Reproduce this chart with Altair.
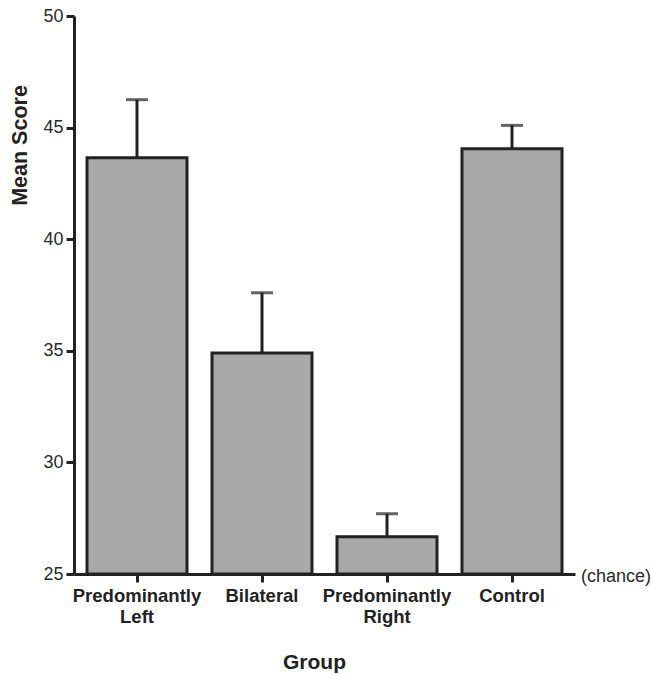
import altair as alt
import pandas as pd

groups = ["Predominantly Left", "Bilateral", "Predominantly Right", "Control"]
means = [43.65, 34.9, 26.67, 44.05]
upper = [46.25, 37.6, 27.7, 45.1]

df = pd.DataFrame({"group": groups, "mean": means, "upper": upper})

FONT = "Liberation Sans"
DARK = "#222222"

x = alt.X(
    "group:N",
    sort=groups,
    scale=alt.Scale(paddingInner=0.2, paddingOuter=0.104),
    axis=alt.Axis(
        title="Group",
        labelExpr="split(datum.label, ' ')",
        labelAngle=0,
        labelFont=FONT,
        labelFontSize=18.5,
        labelFontWeight="bold",
        labelColor=DARK,
        labelLineHeight=21,
        labelPadding=4,
        tickSize=8,
        tickWidth=3,
        tickColor=DARK,
        domainColor=DARK,
        domainWidth=3,
        titleFont=FONT,
        titleFontSize=21,
        titleFontWeight="bold",
        titleColor=DARK,
        titleX=240,
        titleY=94,
        titleBaseline="alphabetic",
        titleAlign="center",
    ),
)

y_scale = alt.Scale(domain=[25, 50], nice=False, zero=False)
y_axis = alt.Axis(
    title="Mean Score",
    values=[25, 30, 35, 40, 45, 50],
    grid=False,
    labelFont=FONT,
    labelFontSize=18,
    labelColor="#2a2a2a",
    labelPadding=3,
    tickSize=8,
    tickWidth=3,
    tickColor=DARK,
    domainColor=DARK,
    domainWidth=3,
    titleFont=FONT,
    titleFontSize=21.5,
    titleFontWeight="bold",
    titleColor=DARK,
    titleAngle=270,
    titleX=-54,
    titleY=129,
    titleAlign="center",
    titleBaseline="middle",
)

base = alt.Chart(df)

bars = base.mark_bar(fill="#a9a9a9", stroke=DARK, strokeWidth=3).encode(
    x=x,
    y=alt.Y("mean:Q", scale=y_scale, axis=y_axis),
    y2=alt.Y2(datum=25),
)

err = base.mark_rule(color=DARK, strokeWidth=3).encode(
    x=alt.X("group:N", sort=groups),
    y=alt.Y("mean:Q"),
    y2="upper:Q",
)

caps = base.mark_tick(color=DARK, thickness=3, size=22, orient="horizontal").encode(
    x=alt.X("group:N", sort=groups),
    y=alt.Y("upper:Q"),
)

chance = alt.Chart(pd.DataFrame({"t": ["(chance)"]})).mark_text(
    align="left", baseline="middle", font=FONT, fontSize=18, color="#2a2a2a"
).encode(
    x=alt.value(507),
    y=alt.value(561),
    text="t:N",
)

chart = (
    alt.layer(bars, err, caps, chance)
    .properties(
        width=501,
        height=558,
        background="white",
        autosize=alt.AutoSizeParams(type="none"),
        padding={"left": 74, "top": 16, "right": 76, "bottom": 100},
    )
    .configure_view(strokeWidth=0, stroke=None)
)

chart.save("out.html", embed_options={"renderer": "svg", "actions": False})
